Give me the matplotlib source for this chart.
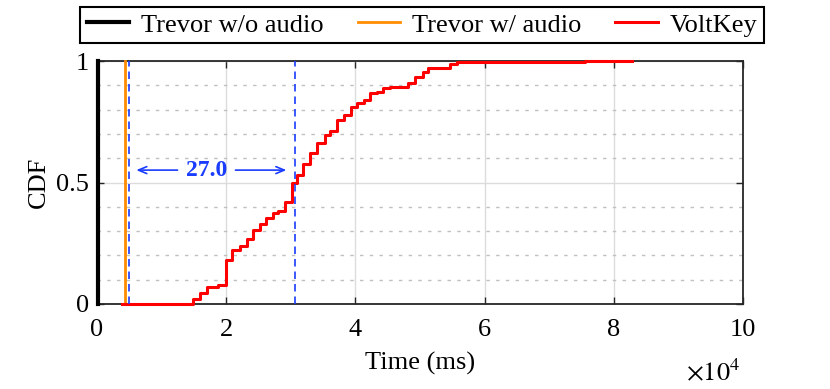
import matplotlib
matplotlib.use("Agg")
import matplotlib.pyplot as plt
import numpy as np
from matplotlib.ticker import FuncFormatter, MultipleLocator

plt.rcParams['font.family'] = ['Liberation Serif', 'DejaVu Serif']
plt.rcParams['mathtext.fontset'] = 'stix'

# Data (time in ms)
trevor_noaudio_x = [150, 150]
trevor_noaudio_y = [0.0, 1.0]
trevor_audio_x = [3900, 4330, 4330]
trevor_audio_y = [0.0, 0.0, 1.0]
voltkey_x = [3800, 14910, 15940, 16970, 18780, 19920, 20950, 22140, 23170, 24100,
             25230, 26160, 27190, 28070, 29100, 30140, 30910, 31940, 32970, 34100,
             35290, 36070, 37100, 38240, 39270, 40300, 41330, 42260, 43300, 44320,
             45360, 48190, 49230, 50420, 51290, 54640, 55680, 75540, 82770]
voltkey_y = [0.000, 0.019, 0.044, 0.071, 0.077, 0.181, 0.222, 0.239, 0.266, 0.305,
             0.328, 0.353, 0.376, 0.381, 0.421, 0.497, 0.531, 0.575, 0.623, 0.664,
             0.695, 0.712, 0.757, 0.778, 0.812, 0.828, 0.840, 0.867, 0.874, 0.888,
             0.895, 0.908, 0.935, 0.956, 0.970, 0.988, 0.997, 1.000, 1.000]
marker_lines = [4950, 30650]
annot_text = "27.0"

fig = plt.figure(figsize=(8.30, 3.89), dpi=100)
ax = fig.add_axes([97/830, 1-304/389, (743-97)/830, (304-61)/389])

ax.set_xlim(0, 100000)
ax.set_ylim(0, 1)

# grids
ax.xaxis.set_major_locator(MultipleLocator(20000))
ax.yaxis.set_major_locator(MultipleLocator(0.5))
ax.yaxis.set_minor_locator(MultipleLocator(0.1))
ax.grid(True, which='major', color='#dcdcdc', lw=1.0, ls='-')
ax.grid(True, which='minor', axis='y', color='#c0c0c0', lw=1.0, ls=(0, (2.5, 4.5)))
ax.set_axisbelow(True)

l1, = ax.plot(trevor_noaudio_x, trevor_noaudio_y, color='black', lw=3.0, label='Trevor w/o audio', clip_on=False, zorder=4)
l2, = ax.plot(trevor_audio_x, trevor_audio_y, color='#ff8c00', lw=2.0, label='Trevor w/ audio', zorder=3, clip_on=False)
l3, = ax.step(voltkey_x, voltkey_y, where='post', color='#ff0000', lw=2.2, label='VoltKey', zorder=3, clip_on=False)

for xv in marker_lines:
    ax.axvline(xv, color='#1a3cff', lw=1.2, ls=(0, (4.5, 3)), zorder=5)

ax.annotate('', xy=(marker_lines[0] + 700, 0.551), xytext=(12900, 0.551),
            arrowprops=dict(arrowstyle='->,head_length=0.6,head_width=0.25', color='#1a3cff', lw=1.2), zorder=6)
ax.annotate('', xy=(marker_lines[1] - 900, 0.551), xytext=(21000, 0.551),
            arrowprops=dict(arrowstyle='->,head_length=0.6,head_width=0.25', color='#1a3cff', lw=1.2), zorder=6)
ax.text(16900, 0.551, annot_text, color='#1a3cff', fontsize=17, fontweight='bold',
        ha='center', va='center', zorder=6)

ax.xaxis.set_major_formatter(FuncFormatter(lambda v, p: f"{v/1e4:g}"))
ax.yaxis.set_major_formatter(FuncFormatter(lambda v, p: f"{v:g}"))
ax.tick_params(which='both', direction='in', top=True, right=True, labelsize=19,
               color='#262626', width=1.0)
ax.tick_params(which='major', length=5)
ax.tick_params(which='minor', length=0)
ax.tick_params(axis='x', pad=11)
ax.tick_params(axis='y', pad=6)
for s in ax.spines.values():
    s.set_color('#262626')
    s.set_linewidth(1.3)

ax.set_xlabel('Time (ms)', fontsize=19, labelpad=8)
ax.set_ylabel('CDF', fontsize=19, labelpad=4)
fig.text(740/830, 1-372/389, r'$\times10^4$', fontsize=19, ha='right', va='center')

leg = fig.legend(handles=[l1, l2, l3], loc='center', bbox_to_anchor=(422/830, 1-25/389),
                 ncol=3, fontsize=19, frameon=True, fancybox=False, framealpha=1,
                 edgecolor='black', handlelength=1.6, handletextpad=0.45,
                 columnspacing=1.3, borderpad=0.25, borderaxespad=0)
leg.get_frame().set_linewidth(1.5)

fig.savefig('out.png', dpi=100)
